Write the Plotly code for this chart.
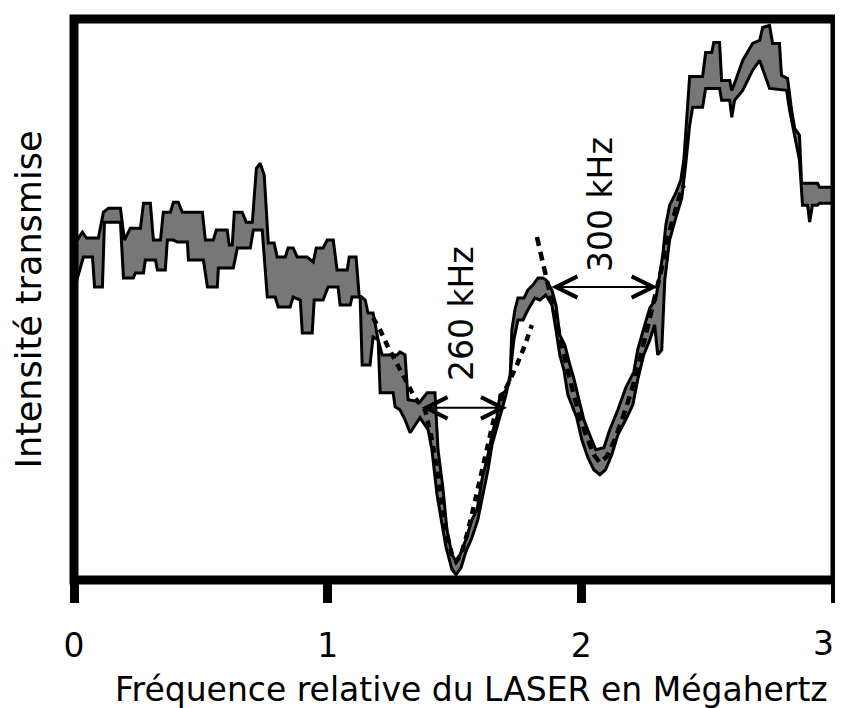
import plotly.graph_objects as go

# Frequency (MHz) and transmitted intensity (arbitrary units) — upper edge of the recorded trace
upper_x = [0.000, 0.033, 0.049, 0.096, 0.116, 0.136, 0.183, 0.199, 0.222, 0.262, 0.274, 0.301, 0.313, 0.341,
           0.352, 0.380, 0.392, 0.411, 0.427, 0.506, 0.518, 0.549, 0.561, 0.604, 0.612, 0.624, 0.632, 0.663,
           0.679, 0.703, 0.719, 0.734, 0.750, 0.766, 0.789, 0.801, 0.833, 0.844, 0.864, 0.880, 0.919, 0.943,
           0.955, 0.982, 0.998, 1.022, 1.037, 1.077, 1.085, 1.112, 1.124, 1.148, 1.159, 1.179, 1.199, 1.215,
           1.274, 1.285, 1.305, 1.317, 1.364, 1.392, 1.423, 1.435, 1.455, 1.470, 1.490, 1.506, 1.522, 1.545,
           1.569, 1.589, 1.608, 1.632, 1.652, 1.667, 1.679, 1.699, 1.719, 1.726, 1.738, 1.750, 1.774, 1.789,
           1.809, 1.829, 1.848, 1.861, 1.884, 1.900, 1.915, 1.935, 1.955, 1.970, 1.986, 2.010, 2.033, 2.057,
           2.089, 2.112, 2.144, 2.175, 2.207, 2.222, 2.250, 2.270, 2.293, 2.309, 2.321, 2.333, 2.348, 2.372,
           2.392, 2.404, 2.415, 2.427, 2.478, 2.490, 2.514, 2.522, 2.545, 2.553, 2.585, 2.593, 2.604, 2.636,
           2.675, 2.703, 2.715, 2.742, 2.754, 2.781, 2.789, 2.813, 2.829, 2.841, 2.860, 2.868, 2.931, 2.939,
           3.000]
upper_y = [331, 344, 338, 338, 364, 368, 368, 336, 348, 348, 373, 373, 336, 336,
           364, 364, 374, 374, 364, 364, 336, 336, 346, 346, 331, 331, 364, 364,
           354, 354, 408, 413, 401, 333, 333, 319, 319, 328, 328, 319, 319, 314,
           328, 328, 336, 336, 306, 306, 319, 319, 281, 276, 263, 263, 236, 221,
           221, 224, 221, 176, 174, 183, 183, 126, 86, 46, 21, 14, 21, 36,
           56, 66, 96, 121, 146, 158, 181, 184, 196, 246, 266, 278, 278, 286,
           291, 298, 298, 296, 286, 271, 241, 231, 211, 198, 181, 156, 141, 126,
           128, 146, 166, 188, 204, 226, 251, 268, 276, 301, 321, 351, 371, 383,
           396, 416, 461, 500, 500, 524, 524, 534, 534, 496, 496, 486, 493, 516,
           533, 536, 549, 551, 533, 533, 501, 498, 466, 448, 441, 393, 393, 389,
           389]

# Lower edge of the recorded trace
lower_x = [0.000, 0.037, 0.073, 0.081, 0.112, 0.120, 0.183, 0.195, 0.234, 0.242, 0.274, 0.281, 0.321, 0.329,
           0.360, 0.368, 0.392, 0.407, 0.447, 0.451, 0.510, 0.526, 0.565, 0.569, 0.628, 0.644, 0.695, 0.707,
           0.742, 0.762, 0.793, 0.805, 0.852, 0.864, 0.892, 0.900, 0.939, 0.947, 0.982, 1.002, 1.041, 1.049,
           1.089, 1.096, 1.128, 1.136, 1.167, 1.179, 1.199, 1.207, 1.258, 1.266, 1.285, 1.305, 1.325, 1.364,
           1.396, 1.411, 1.431, 1.451, 1.467, 1.490, 1.506, 1.526, 1.545, 1.569, 1.592, 1.612, 1.632, 1.648,
           1.667, 1.687, 1.703, 1.719, 1.734, 1.750, 1.770, 1.789, 1.817, 1.837, 1.860, 1.884, 1.900, 1.915,
           1.931, 1.947, 1.963, 1.982, 2.002, 2.026, 2.049, 2.073, 2.096, 2.120, 2.144, 2.175, 2.203, 2.222,
           2.246, 2.270, 2.289, 2.301, 2.317, 2.329, 2.348, 2.372, 2.396, 2.411, 2.427, 2.439, 2.478, 2.490,
           2.545, 2.553, 2.585, 2.593, 2.604, 2.636, 2.675, 2.703, 2.742, 2.809, 2.821, 2.841, 2.860, 2.872,
           2.892, 2.900, 2.911, 2.931, 2.939, 3.000]
lower_y = [286, 319, 319, 289, 289, 354, 354, 298, 298, 303, 303, 316, 316, 306,
           306, 336, 336, 334, 334, 316, 316, 289, 289, 308, 308, 328, 328, 346,
           346, 279, 279, 269, 269, 279, 276, 243, 243, 276, 276, 289, 289, 271,
           271, 279, 279, 211, 211, 239, 236, 183, 183, 169, 166, 156, 143, 158,
           146, 126, 81, 51, 28, 6, 1, 8, 24, 38, 56, 81, 106, 131,
           146, 166, 181, 201, 236, 256, 256, 266, 278, 276, 281, 271, 246, 221,
           206, 181, 171, 158, 136, 118, 106, 101, 106, 121, 141, 156, 171, 196,
           221, 236, 251, 221, 226, 296, 336, 358, 378, 411, 451, 469, 469, 488,
           488, 476, 476, 459, 476, 486, 506, 516, 488, 486, 466, 441, 416, 371,
           371, 354, 371, 371, 373, 373]

# Fitted line shapes (dashed)
fit1_x = [1.179, 1.207, 1.234, 1.266, 1.305, 1.344, 1.384, 1.411, 1.431, 1.451, 1.470, 1.490, 1.506,
          1.526, 1.549, 1.573, 1.600, 1.628, 1.659, 1.691, 1.719, 1.746, 1.778, 1.805]
fit1_y = [258, 246, 231, 216, 196, 178, 166, 136, 106, 71, 41, 21, 14,
          21, 41, 66, 96, 131, 161, 181, 196, 211, 231, 251]
fit2_x = [1.825, 1.841, 1.856, 1.876, 1.900, 1.927, 1.955, 1.986, 2.018, 2.049, 2.073, 2.100, 2.132,
          2.167, 2.199, 2.230, 2.258, 2.281, 2.301, 2.317, 2.337, 2.360, 2.388, 2.404]
fit2_y = [339, 321, 306, 286, 258, 226, 196, 166, 141, 121, 113, 119, 136,
          161, 186, 216, 246, 271, 291, 308, 336, 358, 381, 391]

# Width markers
width_labels = ["260 kHz", "300 kHz"]
width_x0 = [1.364, 1.876]
width_x1 = [1.707, 2.301]
width_y = [168, 289]
label_x = [1.530, 2.073]
label_y = [262, 372]

tick_vals = [0, 1, 2, 3]
tick_text = ["0", "1", "2", "3"]
x_title = "Fréquence relative du LASER en Mégahertz"
y_title = "Intensité transmise"

FONT = "DejaVu Sans"

fig = go.Figure()

band_x = upper_x + lower_x[::-1]
band_y = upper_y + lower_y[::-1]
fig.add_trace(go.Scatter(x=band_x, y=band_y, mode="lines", fill="toself",
                         fillcolor="#777777", line=dict(color="black", width=3),
                         hoverinfo="skip", showlegend=False))

fig.add_trace(go.Scatter(x=fit1_x, y=fit1_y, mode="lines",
                         line=dict(color="black", width=4.5, dash="7px,6px"), showlegend=False))
fig.add_trace(go.Scatter(x=fit2_x, y=fit2_y, mode="lines",
                         line=dict(color="black", width=4.5, dash="9px,6px"), showlegend=False))

annotations = []
for lab, x0, x1, yv, lx, ly in zip(width_labels, width_x0, width_x1, width_y, label_x, label_y):
    annotations.append(dict(x=x1, y=yv, ax=x0, ay=yv, xref="x", yref="y", axref="x", ayref="y",
                            text="", showarrow=True, arrowhead=5, startarrowhead=5,
                            arrowside="end+start", arrowwidth=2, arrowsize=2.1, startarrowsize=2.1,
                            arrowcolor="black", standoff=0, startstandoff=0))
    annotations.append(dict(x=lx, y=ly, xref="x", yref="y", text=lab, showarrow=False,
                            textangle=-90, font=dict(family=FONT, size=33, color="black"),
                            xanchor="center", yanchor="middle"))

annotations.append(dict(x=0.522, y=-0.195, xref="paper", yref="paper", text=x_title, showarrow=False,
                        font=dict(family=FONT, size=33, color="black"), xanchor="center", yanchor="middle"))
annotations.append(dict(x=-0.0598, y=0.501, xref="paper", yref="paper", text=y_title, showarrow=False,
                        textangle=-90, font=dict(family=FONT, size=35, color="black"),
                        xanchor="center", yanchor="middle"))

# The last tick label sits at the very right edge of the window: it is placed right-anchored
# so that it does not overflow the page.
axis_text = [t for t in tick_text[:-1]] + [""]
annotations.append(dict(x=tick_vals[-1], y=-0.1135, xref="x", yref="paper", text=tick_text[-1],
                        showarrow=False, xanchor="right", xshift=1,
                        font=dict(family=FONT, size=33, color="black"), yanchor="middle"))

# Thick frame centred on the plot-area edges
frame = dict(type="rect", xref="paper", yref="paper", x0=0, x1=1, y0=0, y1=1,
             line=dict(color="black", width=9), layer="above")

# The page adds an 8px body margin, so the figure is 8px smaller than the window
fig.update_layout(
    width=835, height=700,
    margin=dict(l=65.5, r=8, t=10.5, b=127.5),
    paper_bgcolor="white", plot_bgcolor="white",
    annotations=annotations,
    shapes=[frame],
    xaxis=dict(range=[0, 3], showline=False,
               ticks="outside", ticklen=22, tickwidth=9, tickcolor="black",
               tickvals=tick_vals, ticktext=axis_text, ticklabelstandoff=14,
               tickfont=dict(family=FONT, size=33, color="black"),
               showgrid=False, zeroline=False, fixedrange=True),
    yaxis=dict(range=[-4.5, 557.5], showline=False,
               ticks="", showticklabels=False, showgrid=False, zeroline=False, fixedrange=True),
)

fig.write_html("out.html")
